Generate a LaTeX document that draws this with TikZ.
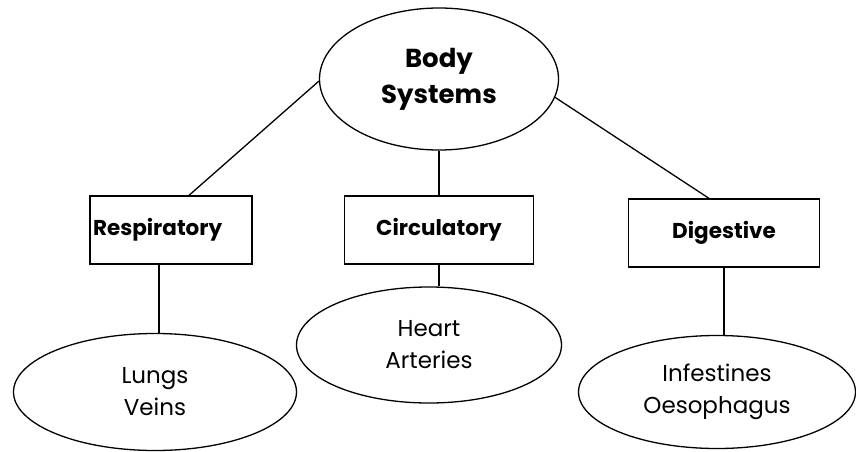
\documentclass[tikz,border=0pt]{standalone}
\usepackage{fontspec}
\setmainfont{Poppins}
\usepackage{tikz}
\usetikzlibrary{shapes,positioning}
\tikzstyle{topnode} = [ellipse, draw, line width=1.3pt, minimum width=239pt, minimum height=142pt, align=center, font=\fontsize{26}{36}\selectfont\bfseries]
\tikzstyle{system} = [rectangle, draw, line width=1.3pt, minimum height=68pt, font=\fontsize{21.5}{24}\selectfont\bfseries]
\tikzstyle{organ} = [ellipse, draw, line width=1.3pt, align=center, font=\fontsize{23}{32}\selectfont]
\tikzstyle{link} = [line width=1.3pt]

\begin{document}
\begin{tikzpicture}[x=1pt, y=1pt]
\useasboundingbox (0,0) rectangle (856,451);
% Root
\node (body) [topnode] at (439,372) {Body\\Systems};

% Systems
\node (circ) [system, below of=body, node distance=151pt, minimum width=189pt] {Circulatory};
\node (resp) [system, left of=circ, node distance=268pt, text width=156pt, inner xsep=3pt, align=left] {Respiratory};
\node (dig) [system, right of=circ, node distance=285pt, minimum width=191pt, yshift=-3pt] {Digestive};

% Organs
\node (lungs) [organ, below of=resp, node distance=162pt, xshift=-16pt, minimum width=283pt, minimum height=117pt] {Lungs\\Veins};
\node (heart) [organ, below of=circ, node distance=115pt, xshift=-10pt, minimum width=265pt, minimum height=116pt] {Heart\\Arteries};
\node (intest) [organ, below of=dig, node distance=159pt, xshift=-7pt, minimum width=277pt, minimum height=113pt] {Infestines\\Oesophagus};

\draw[link] (body.181) -- ([xshift=18pt]resp.north);
\draw[link] (body.south) -- (circ.north);
\draw[link] (body.-9) -- ([xshift=-15pt]dig.north);
\draw[link] ([xshift=-12pt]resp.south) -- ([xshift=-12pt]resp.south |- lungs.north);
\draw[link] (circ.south) -- (circ.south |- heart.north);
\draw[link] (dig.south) -- (dig.south |- intest.north);
\end{tikzpicture}
\end{document}
